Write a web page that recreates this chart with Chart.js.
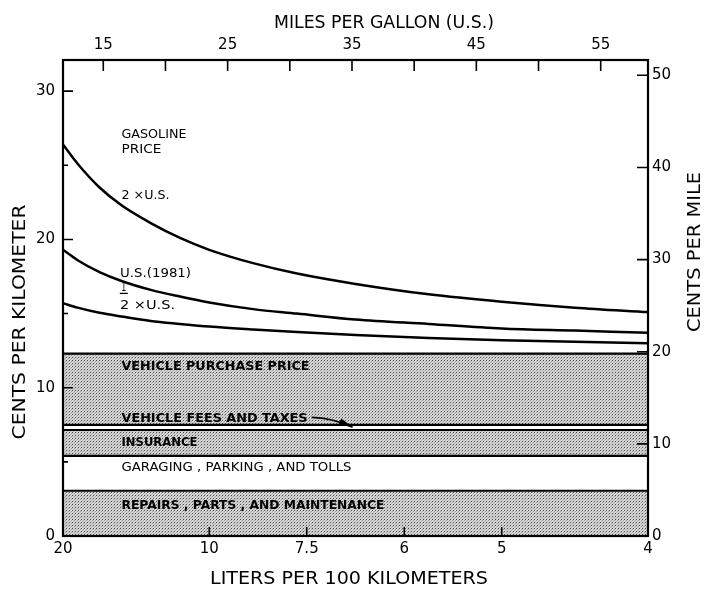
<!DOCTYPE html>
<html>
<head>
<meta charset="utf-8">
<script src="https://cdn.jsdelivr.net/npm/chart.js@4.4.1/dist/chart.umd.min.js"></script>
<style>
  html, body { margin: 0; padding: 0; background: #fff; }
  #wrap { width: 704px; height: 589px; }
</style>
</head>
<body>
<div id="wrap"><canvas id="c" width="704" height="589"></canvas></div>
<script>
// Fuel economy samples (km per litre) and gasoline cost curves on top of fixed costs (cents per km)
const fuelEconomyKmL = [5, 5.5, 6.25, 7, 8, 9, 10, 11.5, 13, 15, 17.5, 20, 22.5, 25];
const costGasTwiceUS = [26.4, 25.1, 23.5, 22.3, 21.1, 20.1, 19.3, 18.4, 17.7, 17.0, 16.3, 15.8, 15.4, 15.1];
const costGasUS1981  = [19.3, 18.6, 17.8, 17.2, 16.6, 16.15, 15.75, 15.3, 15.0, 14.6, 14.3, 14.0, 13.85, 13.7];
const costGasHalfUS  = [15.7, 15.4, 15.05, 14.8, 14.5, 14.3, 14.12, 13.92, 13.75, 13.55, 13.35, 13.2, 13.1, 13.0];

// Cumulative tops of the fixed-cost bands (cents per km), bottom to top
const bandNames = [
  'REPAIRS , PARTS , AND MAINTENANCE',
  'GARAGING , PARKING , AND TOLLS',
  'INSURANCE',
  'VEHICLE FEES AND TAXES',
  'VEHICLE PURCHASE PRICE'
];
const bandTops = [3.05, 5.4, 7.15, 7.5, 12.3];

// Axis ticks
const litersPer100kmTicks = [20, 10, 7.5, 6, 5, 4];
const mpgTicks = [15, 20, 25, 30, 35, 40, 45, 50, 55];
const mpgLabels = [15, 25, 35, 45, 55];
const centsPerKmTicks = [0, 5, 10, 15, 20, 25, 30];
const centsPerKmLabels = [0, 10, 20, 30];
const centsPerMileTicks = [0, 10, 20, 30, 40, 50];

const MPG_PER_KML = 2.352146;
const MILE_PER_KM = 1.609344;
const X_MIN = 5, X_MAX = 25, Y_MAX = 32.1;
const FONT = "'DejaVu Sans', 'Liberation Sans', sans-serif";

const canvas = document.getElementById('c');
const ctx0 = canvas.getContext('2d');

// Halftone-like stipple used for the shaded bands
const stipple = (() => {
  const t = document.createElement('canvas');
  t.width = 3; t.height = 3;
  const g = t.getContext('2d');
  g.fillStyle = '#d6d6d6'; g.fillRect(0, 0, 3, 3);
  g.fillStyle = '#4a4a4a'; g.fillRect(0, 0, 1, 1);
  g.fillStyle = '#9a9a9a'; g.fillRect(2, 1, 1, 1);
  g.fillStyle = '#b4b4b4'; g.fillRect(1, 2, 1, 1);
  return ctx0.createPattern(t, 'repeat');
})();

const bandDatasets = bandTops.map((top, i) => ({
  label: bandNames[i],
  data: [{ x: X_MIN, y: top }, { x: X_MAX, y: top }],
  borderColor: '#000',
  borderWidth: 2.2,
  pointRadius: 0,
  fill: i % 2 === 0 ? (i === 0 ? 'origin' : '-1') : false,
  backgroundColor: stipple
}));

const curve = (name, values) => ({
  label: name,
  data: fuelEconomyKmL.map((x, i) => ({ x, y: values[i] })),
  borderColor: '#000',
  borderWidth: 2.5,
  pointRadius: 0,
  fill: false,
  cubicInterpolationMode: 'monotone'
});

const gasDatasets = [
  curve('2 ×U.S.', costGasTwiceUS),
  curve('U.S.(1981)', costGasUS1981),
  curve('½ ×U.S.', costGasHalfUS)
];

// Draw text whose cap height is centred on y, stretched to a given width
function drawText(ctx, text, x, y, width, size, weight, align, rot) {
  ctx.save();
  ctx.font = `${weight} ${size}px ${FONT}`;
  ctx.fillStyle = '#000';
  ctx.textBaseline = 'alphabetic';
  const w = ctx.measureText(text).width;
  ctx.translate(x, y);
  if (rot) ctx.rotate(rot);
  ctx.scale(width / w, 1);
  ctx.textAlign = align;
  ctx.fillText(text, 0, size * 0.365);
  ctx.restore();
}

// Labels inside the plot: [text, km/L at left edge, cents/km at centre, width, size, weight]
const insideLabels = [
  ['GASOLINE', 7.0, 27.12, 65, 12.5, 'normal'],
  ['PRICE', 7.0, 26.16, 40, 12.5, 'normal'],
  ['2 ×U.S.', 7.0, 23.06, 48, 12.5, 'normal'],
  ['U.S.(1981)', 6.95, 17.8, 71, 12.5, 'normal'],
  ['2 ×U.S.', 6.95, 15.64, 55, 12.5, 'normal'],
  [bandNames[4], 7.0, 11.53, 188, 13, 'bold'],
  [bandNames[3], 7.0, 8.02, 186, 13, 'bold'],
  [bandNames[2], 7.0, 6.41, 76, 13, 'bold'],
  [bandNames[1], 7.0, 4.72, 230, 13, 'normal'],
  [bandNames[0], 7.0, 2.16, 263, 13, 'bold']
];

const decorations = {
  id: 'decorations',
  afterDraw(chart) {
    const ctx = chart.ctx;
    const { left, right, top, bottom } = chart.chartArea;
    const sx = chart.scales.x, st = chart.scales.xTop, sy = chart.scales.y, sm = chart.scales.yMile;

    // frame
    ctx.save();
    ctx.strokeStyle = '#000';
    ctx.lineWidth = 2.2;
    ctx.strokeRect(left, top, right - left, bottom - top);

    // inward tick marks
    ctx.lineWidth = 1.6;
    ctx.beginPath();
    litersPer100kmTicks.slice(1, -1).forEach(l => {
      const px = sx.getPixelForValue(100 / l);
      ctx.moveTo(px, bottom); ctx.lineTo(px, bottom - 9);
    });
    mpgTicks.forEach(m => {
      const px = st.getPixelForValue(m);
      ctx.moveTo(px, top); ctx.lineTo(px, top + 11);
    });
    centsPerKmTicks.filter(v => v > 0).forEach(v => {
      const py = sy.getPixelForValue(v);
      const len = centsPerKmLabels.includes(v) ? 10 : 5;
      ctx.moveTo(left, py); ctx.lineTo(left + len, py);
    });
    centsPerMileTicks.filter(v => v > 0).forEach(v => {
      const py = sm.getPixelForValue(v);
      ctx.moveTo(right, py); ctx.lineTo(right - 11, py);
    });
    ctx.stroke();
    ctx.restore();

    // labels inside the plot
    insideLabels.forEach(([t, kx, cy, w, s, wt]) => {
      drawText(ctx, t, sx.getPixelForValue(kx), sy.getPixelForValue(cy), w, s, wt, 'left');
    });

    // the "1" and bar of the one-half fraction
    const fx = sx.getPixelForValue(7.08);
    drawText(ctx, '1', fx, sy.getPixelForValue(16.8), 5, 12.5, 'normal', 'center');
    ctx.save();
    ctx.strokeStyle = '#000';
    ctx.lineWidth = 1.3;
    const by = sy.getPixelForValue(16.36);
    ctx.beginPath();
    ctx.moveTo(fx - 4, by); ctx.lineTo(fx + 4, by);
    ctx.stroke();

    // arrow from the fees label to its thin band
    const a0 = [sx.getPixelForValue(13.5), sy.getPixelForValue(8.0)];
    const ac = [sx.getPixelForValue(14.2), sy.getPixelForValue(7.98)];
    const a1 = [sx.getPixelForValue(14.9), sy.getPixelForValue(7.33)];
    ctx.lineWidth = 1.6;
    ctx.beginPath();
    ctx.moveTo(a0[0], a0[1]);
    ctx.quadraticCurveTo(ac[0], ac[1], a1[0], a1[1]);
    ctx.stroke();
    const ang = Math.atan2(a1[1] - ac[1], a1[0] - ac[0]);
    ctx.fillStyle = '#000';
    ctx.beginPath();
    ctx.moveTo(a1[0], a1[1]);
    ctx.lineTo(a1[0] - 14 * Math.cos(ang) + 3.2 * Math.sin(ang), a1[1] - 14 * Math.sin(ang) - 3.2 * Math.cos(ang));
    ctx.lineTo(a1[0] - 14 * Math.cos(ang) - 3.2 * Math.sin(ang), a1[1] - 14 * Math.sin(ang) + 3.2 * Math.cos(ang));
    ctx.closePath();
    ctx.fill();
    ctx.restore();

    // axis titles
    drawText(ctx, 'MILES PER GALLON (U.S.)', 384, 22, 220, 17, 'normal', 'center');
    drawText(ctx, 'LITERS PER 100 KILOMETERS', 349, 578, 278, 17, 'normal', 'center');
    drawText(ctx, 'CENTS PER KILOMETER', 19, 322, 235, 17, 'normal', 'center', -Math.PI / 2);
    drawText(ctx, 'CENTS PER MILE', 694, 252, 160, 17, 'normal', 'center', -Math.PI / 2);
  }
};

const tickFont = { family: FONT, size: 15 };
const noGrid = { display: false, drawTicks: false };
const noBorder = { display: false };

new Chart(canvas, {
  type: 'line',
  data: { datasets: [...bandDatasets, ...gasDatasets] },
  options: {
    responsive: false,
    animation: false,
    devicePixelRatio: 1,
    layout: { padding: 0 },
    plugins: { legend: { display: false }, tooltip: { enabled: false } },
    scales: {
      x: {
        type: 'linear', position: 'bottom', min: X_MIN, max: X_MAX,
        afterBuildTicks: s => { s.ticks = litersPer100kmTicks.map(l => ({ value: 100 / l })); },
        ticks: { callback: v => String(+(100 / v).toFixed(1)), font: tickFont, color: '#000', padding: 4, autoSkip: false, maxRotation: 0 },
        grid: noGrid, border: noBorder,
        afterFit: s => { s.height = 53; }
      },
      xTop: {
        type: 'linear', position: 'top', min: X_MIN * MPG_PER_KML, max: X_MAX * MPG_PER_KML,
        afterBuildTicks: s => { s.ticks = mpgTicks.map(v => ({ value: v })); },
        ticks: { callback: v => (mpgLabels.includes(v) ? String(v) : ''), font: tickFont, color: '#000', padding: 6, autoSkip: false, maxRotation: 0 },
        grid: noGrid, border: noBorder,
        afterFit: s => { s.height = 60; }
      },
      y: {
        type: 'linear', position: 'left', min: 0, max: Y_MAX,
        afterBuildTicks: s => { s.ticks = centsPerKmTicks.map(v => ({ value: v })); },
        ticks: { callback: v => (centsPerKmLabels.includes(v) ? String(v) : ''), font: tickFont, color: '#000', padding: 8, autoSkip: false },
        grid: noGrid, border: noBorder,
        afterFit: s => { s.width = 63; }
      },
      yMile: {
        type: 'linear', position: 'right', min: 0, max: Y_MAX * MILE_PER_KM,
        afterBuildTicks: s => { s.ticks = centsPerMileTicks.map(v => ({ value: v })); },
        ticks: { callback: v => String(v), font: tickFont, color: '#000', padding: 4, autoSkip: false },
        grid: noGrid, border: noBorder,
        afterFit: s => { s.width = 56; }
      }
    }
  },
  plugins: [decorations]
});
</script>
</body>
</html>
